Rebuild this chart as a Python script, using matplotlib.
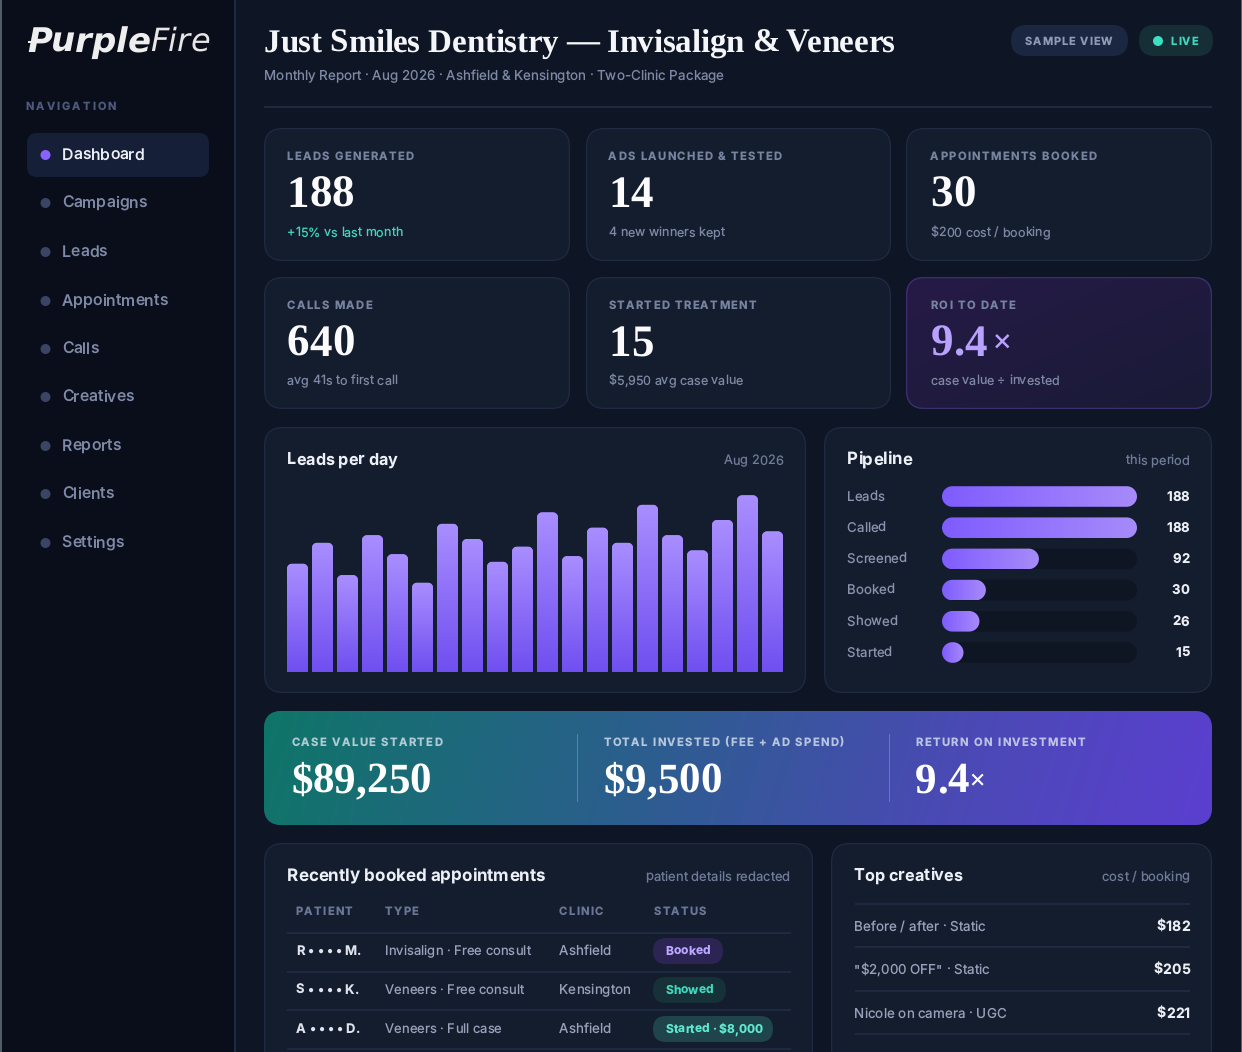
import numpy as np
import matplotlib
matplotlib.use("Agg")
import matplotlib.pyplot as plt
from matplotlib.patches import FancyBboxPatch, Circle, Rectangle, PathPatch
from matplotlib.path import Path
from matplotlib.colors import LinearSegmentedColormap
from matplotlib.text import Text
from matplotlib.transforms import IdentityTransform, Bbox

plt.rcParams["text.hinting"] = "no_hinting"
plt.rcParams["text.hinting_factor"] = 1

# ---------- data ----------
nav_items = ["Dashboard", "Campaigns", "Leads", "Appointments", "Calls",
             "Creatives", "Reports", "Clients", "Settings"]
kpi_labels = ["LEADS GENERATED", "ADS LAUNCHED & TESTED", "APPOINTMENTS BOOKED",
              "CALLS MADE", "STARTED TREATMENT", "ROI TO DATE"]
kpi_values = ["188", "14", "30", "640", "15", "9.4"]
kpi_notes = ["+15% vs last month", "4 new winners kept", "$200 cost / booking",
             "avg 41s to first call", "$5,950 avg case value", "case value ÷ invested"]
daily_leads = [57, 68, 51, 72, 62, 47, 78, 70, 58, 66, 84, 61, 76, 68, 88, 72, 64, 80, 93, 74]
pipeline_stages = ["Leads", "Called", "Screened", "Booked", "Showed", "Started"]
pipeline_counts = [188, 188, 92, 30, 26, 15]
pipeline_fill = [100, 100, 49.7, 22.5, 19.2, 11]
banner_labels = ["CASE VALUE STARTED", "TOTAL INVESTED (FEE + AD SPEND)", "RETURN ON INVESTMENT"]
banner_values = ["$89,250", "$9,500", "9.4"]
table_headers = ["PATIENT", "TYPE", "CLINIC", "STATUS"]
table_patients = ["R • • • • M.", "S • • • • K.", "A • • • • D."]
table_types = ["Invisalign · Free consult", "Veneers · Free consult", "Veneers · Full case"]
table_clinics = ["Ashfield", "Kensington", "Ashfield"]
table_status = ["Booked", "Showed", "Started · $8,000"]
creative_names = ["Before / after · Static", '"$2,000 OFF" · Static', "Nicole on camera · UGC"]
creative_costs = ["$182", "$205", "$221"]

# ---------- style ----------
W, H = 1242, 1052
UI = ["Inter", "DejaVu Sans"]
SERIF = ["Liberation Serif", "DejaVu Serif"]
C_MAIN = "#0e1524"; C_SIDE = "#0a0e1a"; C_LINE = "#1e2a42"; C_CARD = "#141d2e"
C_BORDER = "#1f2b42"; C_MUTED = "#7e89a5"; C_DIM = "#6f7b99"; C_TEAL = "#3fd8bd"
C_LABEL = "#77839f"
px = lambda v: v * 0.72

fig = plt.figure(figsize=(W / 100, H / 100), dpi=100, facecolor=C_MAIN)
bg = fig.add_axes([0, 0, 1, 1])
bg.set_xlim(0, W); bg.set_ylim(H, 0); bg.axis("off")


class Tracked(Text):
    """Text with letter spacing (px); it stays one text object."""
    def __init__(self, x, y, s, tracking=0, **kw):
        super().__init__(x, y, s, **kw)
        self._tracking = tracking

    def draw(self, renderer):
        if not self.get_visible():
            return
        s = self.get_text()
        fp = self.get_fontproperties()
        w = lambda t: renderer.get_text_width_height_descent(t, fp, False)[0] if t else 0
        x0, y0 = self.get_transform().transform(self.get_position())
        total = w(s) + self._tracking * (len(s) - 1)
        if self.get_ha() == "right":
            x0 -= total
        elif self.get_ha() == "center":
            x0 -= total / 2
        for i, ch in enumerate(s):
            if ch == " ":
                continue
            xi = x0 + w(s[:i + 1]) - w(ch) + self._tracking * i
            t = Text(xi, y0, ch, color=self.get_color(), fontproperties=fp, va=self.get_va(),
                     ha="left", alpha=self.get_alpha(), transform=IdentityTransform())
            t.set_figure(self.get_figure())
            t.draw(renderer)

    def get_window_extent(self, renderer=None, dpi=None):
        b = super().get_window_extent(renderer, dpi)
        extra = self._tracking * (len(self.get_text()) - 1)
        return Bbox([[b.x0, b.y0], [b.x1 + extra, b.y1]])


def txt(x, y, s, size, color, weight="normal", ha="left", va="center", family=UI,
        track=0, alpha=None, ax=bg, **kw):
    dy = 3 if family is SERIF else 1
    dx = -0.7
    t = Tracked(x + dx, y + dy, s, tracking=track, fontsize=px(size), color=color, fontweight=weight,
                ha=ha, va=va, family=family, alpha=alpha, transform=ax.transData, **kw)
    ax.add_artist(t)
    return t


def rrect(x0, y0, x1, y1, r, fc, ec="none", lw=0, z=1, ax=bg):
    p = FancyBboxPatch((x0 + r, y0 + r), x1 - x0 - 2 * r, y1 - y0 - 2 * r,
                       boxstyle=f"round,pad={r},rounding_size={r}", fc=fc, ec=ec, lw=lw, zorder=z)
    ax.add_patch(p)
    return p


def card(x0, y0, x1, y1, fc=C_CARD, ec=C_BORDER, z=1):
    return rrect(x0 + 0.6, y0 + 0.6, x1 - 0.6, y1 - 0.6, 18, fc, ec, 0.9, z=z)


def grad(c0, c1):
    return LinearSegmentedColormap.from_list("g", [c0, c1])


def rounded_path(x0, y0, x1, y1, rx, ry, bottom=True):
    """Rounded rectangle in data coordinates, with separate x and y radii."""
    k = 0.5523
    v = []; c = []
    def mv(*p): v.append(p); c.append(Path.MOVETO)
    def ln(*p): v.append(p); c.append(Path.LINETO)
    def cv(a, b, d):
        v.extend([a, b, d]); c.extend([Path.CURVE4] * 3)
    rb_x, rb_y = (rx, ry) if bottom else (0, 0)
    mv(x0 + rb_x, y0)
    ln(x1 - rb_x, y0)
    if bottom:
        cv((x1 - rb_x + k * rb_x, y0), (x1, y0 + rb_y - k * rb_y), (x1, y0 + rb_y))
    ln(x1, y1 - ry)
    cv((x1, y1 - ry + k * ry), (x1 - rx + k * rx, y1), (x1 - rx, y1))
    ln(x0 + rx, y1)
    cv((x0 + rx - k * rx, y1), (x0, y1 - ry + k * ry), (x0, y1 - ry))
    ln(x0, y0 + rb_y)
    if bottom:
        cv((x0, y0 + rb_y - k * rb_y), (x0 + rb_x - k * rb_x, y0), (x0 + rb_x, y0))
    ln(x0 + rb_x, y0)
    return Path(v, c)


# ---------- page frame ----------
bg.add_patch(Rectangle((2, 0), 232, H, fc=C_SIDE, ec="none", zorder=0))
bg.add_patch(Rectangle((234, 0), 1.5, H, fc=C_LINE, ec="none", zorder=0))
bg.add_patch(Rectangle((0, 0), 1.8, H, fc="#4f5f66", ec="none", zorder=0))
bg.add_patch(Rectangle((1241, 0), 1, H, fc="#5a6472", ec="none", zorder=0))

# ---------- sidebar ----------
txt(27.5, 41.5, "Purple", 34.5, "#eeeeee", "bold", family=["DejaVu Sans"], style="oblique")
txt(150.5, 41.5, "Fire", 32.5, "#e6e6e6", "normal", family=["DejaVu Sans"], style="oblique")
bg.add_patch(Rectangle((28, 40.5), 13, 2.4, fc="#eeeeee", ec="none", zorder=3))
txt(26.5, 105.5, "NAVIGATION", 11, "#4e5a7c", "bold", track=2.1)
rrect(27, 133, 209, 177, 10, "#161f38")
nav_y = [155, 203, 252, 301, 349, 397, 446, 494, 543]
for i, (name, y) in enumerate(zip(nav_items, nav_y)):
    active = i == 0
    bg.add_patch(Circle((45.5, y), 5, fc="#8a63ff" if active else "#3a4566", ec="none", zorder=2))
    txt(62.5, y, name, 15.8, "#eef0f8" if active else "#7f8aa8", "medium")

# ---------- header ----------
txt(264.5, 41, "Just Smiles Dentistry — Invisalign & Veneers", 32.7, "#f5f6fa", "bold", family=SERIF, track=-0.23)
txt(264.5, 75.5, "Monthly Report · Aug 2026 · Ashfield & Kensington · Two-Clinic Package", 13.4, C_MUTED)
bg.add_patch(Rectangle((264, 106.3), 948, 1.4, fc=C_LINE, ec="none", zorder=1))
rrect(1011, 25, 1128, 56, 15.5, "#1b2740")
txt(1025.5, 40.5, "SAMPLE VIEW", 11, "#8e9ab8", "bold", track=1.0)
rrect(1139, 25, 1213, 56, 15.5, "#162f36")
bg.add_patch(Circle((1158, 41), 5, fc="#3ce0c4", ec="none", zorder=2))
txt(1171.5, 40.5, "LIVE", 11, C_TEAL, "bold", track=1.0)

# ---------- KPI cards ----------
kpi_boxes = [(264, 128, 570, 261), (586, 128, 891, 261), (906, 128, 1212, 261),
             (264, 277, 570, 409), (586, 277, 891, 409), (906, 277, 1212, 409)]
kpi_text_x = [287.5, 609, 931, 287.5, 609, 931]
for i, box in enumerate(kpi_boxes):
    x0, y0, x1, y1 = box
    if i == 5:
        clip = card(x0, y0, x1, y1, "#1e1a3c", "#3b2f6e")
        cm = grad("#261b47", "#191a36")
        yy, xx = np.mgrid[0:1:40j, 0:1:80j]
        bg.imshow(xx * 0.5 + yy * 0.5, extent=(x0, x1, y1, y0), cmap=cm, aspect="auto",
                  zorder=1.2, clip_path=clip, clip_on=True, vmin=0, vmax=1)
        card(x0, y0, x1, y1, "none", "#3b2f6e", z=1.3)
    else:
        card(x0, y0, x1, y1)
    tx = kpi_text_x[i]
    txt(tx, y0 + 27.5, kpi_labels[i], 11.2, C_LABEL, "bold", track=1.35)
    vc = "#b9a2ff" if i == 5 else "#fbfbfd"
    txt(tx, y0 + 65, kpi_values[i], 45.5, vc, "bold", family=SERIF)
    if i == 5:
        txt(tx + 62, y0 + 65, "×", 31, vc, "normal")
    txt(tx, y0 + (104 if i < 3 else 103), kpi_notes[i], 12.5, C_TEAL if i == 0 else C_MUTED)

# ---------- leads per day ----------
card(264, 427, 806, 693)
txt(287.5, 459, "Leads per day", 16.2, "#eef0f8", "bold")
txt(783.5, 460, "Aug 2026", 12.8, C_DIM, ha="right")

ax = fig.add_axes([287 / W, 1 - 672 / H, (783 - 287) / W, 190 / H])
ax.axis("off"); ax.patch.set_alpha(0)
n = len(daily_leads)
ax.set_xlim(-0.5 + 2 / 25, n - 0.5 - 2 / 25)
ax.set_ylim(0, 100)
bars = ax.bar(range(n), daily_leads, width=21 / 25, color="#8f72f8", edgecolor="none")
rx, ry = 5 / 25, 5 / 1.9
cm_v = grad("#6f4ff0", "#a98eff")
for b in bars:
    x0, x1, top = b.get_x(), b.get_x() + b.get_width(), b.get_height()
    clip = PathPatch(rounded_path(x0, 0, x1, top, rx, ry, bottom=False), transform=ax.transData, fc="none", ec="none")
    ax.add_patch(clip)
    b.set_clip_path(clip)
    im = ax.imshow(np.linspace(0, 1, 128)[:, None], extent=(x0, x1, 0, top), origin="lower",
                   cmap=cm_v, aspect="auto", zorder=3, vmin=0, vmax=1)
    im.set_clip_path(clip)
ax.set_xlim(-0.5 + 2 / 25, n - 0.5 - 2 / 25)
ax.set_ylim(0, 100)

# ---------- pipeline ----------
card(824, 427, 1212, 693)
txt(847.5, 459, "Pipeline", 16.8, "#eef0f8", "bold")
txt(1190, 460, "this period", 12.8, C_DIM, ha="right")
row_h = 31.2
top_px = 496.5 - row_h / 2
ax2 = fig.add_axes([942 / W, 1 - (top_px + 6 * row_h) / H, 195 / W, 6 * row_h / H])
ax2.axis("off"); ax2.patch.set_alpha(0)
ax2.set_xlim(0, 100); ax2.set_ylim(5.5, -0.5)
bh = 20.6 / row_h
px_x = 100 / 195
ax2.barh(range(6), [100] * 6, height=bh, color="none", edgecolor="none")
cm_h = grad("#7f5cff", "#a78bfa")
for i, (stage, count, f) in enumerate(zip(pipeline_stages, pipeline_counts, pipeline_fill)):
    yc = 496 + i * row_h
    txt(847.5, yc, stage, 13.2, "#8a94ae")
    txt(1190, yc, str(count), 13.2, "#eceef6", "bold", ha="right")
    trk = rounded_path(0, i - bh / 2, 100, i + bh / 2, 10.3 * px_x, bh / 2)
    ax2.add_patch(PathPatch(trk, fc="#0f1623", ec="none", zorder=1))
    r = min(10.3 * px_x, f / 2)
    fil = PathPatch(rounded_path(0, i - bh / 2, f, i + bh / 2, r, bh / 2), fc="none", ec="none",
                    transform=ax2.transData, zorder=2)
    ax2.add_patch(fil)
    im = ax2.imshow(np.linspace(0, 1, 128)[None, :], extent=(0, f, i + bh / 2, i - bh / 2),
                    cmap=cm_h, aspect="auto", zorder=3, vmin=0, vmax=1)
    im.set_clip_path(fil)
ax2.set_xlim(0, 100); ax2.set_ylim(5.5, -0.5)

# ---------- banner ----------
bclip = rrect(264, 711, 1212, 825, 18, "#2a5d8a")
yy, xx = np.mgrid[0:1:60j, 0:1:400j]
tt = np.clip((xx * 948 + yy * 114 * 0.3) / (948 + 34), 0, 1)
c_stops = ["#0f7568", "#2a5f8c", "#4a4ab4", "#5b3fd0"]
bg.imshow(tt, extent=(264, 1212, 825, 711),
          cmap=LinearSegmentedColormap.from_list("b", list(zip([0, .38, .72, 1], c_stops))),
          aspect="auto", zorder=1.1, clip_path=bclip, clip_on=True, vmin=0, vmax=1)
for x, lab, val in zip((292, 604, 916), banner_labels, banner_values):
    txt(x, 741.5, lab, 11.2, "#d8e2f0", "bold", track=1.4, alpha=0.8, zorder=4)
    txt(x, 779, val, 43, "#ffffff", "bold", family=SERIF, zorder=4)
txt(969.5, 779, "×", 26, "#ffffff", zorder=4)
for x in (577.5, 889.5):
    bg.add_patch(Rectangle((x - 0.6, 734), 1.2, 68, fc="#ffffff", alpha=0.22, ec="none", zorder=3))

# ---------- bottom-left table ----------
card(264, 843, 813, 1090)
txt(287.5, 875, "Recently booked appointments", 17, "#eef0f8", "bold")
txt(790.5, 876, "patient details redacted", 13, C_DIM, ha="right")
for x, h in zip((296.5, 385.5, 559.5, 654.5), table_headers):
    txt(x, 910.5, h, 11.2, "#6b7796", "bold", track=1.25)
for y in (933, 972, 1010, 1049):
    bg.add_patch(Rectangle((287, y - 0.6), 504, 1.2, fc=C_LINE, ec="none", zorder=2))
row_y = [951, 990, 1029]
pill_w = [70, 73, 120]
pill_bg = ["#2c2554", "#173138", "#20444b"]
pill_fg = ["#bda6ff", C_TEAL, "#5fe8cc"]
for i, y in enumerate(row_y):
    txt(296.5, y - 0.5, table_patients[i], 13, "#dfe3ee", "bold")
    txt(385.5, y - 0.5, table_types[i], 13.0, "#98a2ba")
    txt(559.5, y - 0.5, table_clinics[i], 13.4, "#98a2ba")
    rrect(653, y - 13, 653 + pill_w[i], y + 13, 13, pill_bg[i], z=2)
    txt(666.5, y, table_status[i], 12.0, pill_fg[i], "bold", zorder=4)

# ---------- bottom-right list ----------
card(831, 843, 1212, 1090)
txt(854.5, 875, "Top creatives", 16.2, "#eef0f8", "bold")
txt(1190, 876, "cost / booking", 13, C_DIM, ha="right")
for y in (904, 947, 991, 1034):
    bg.add_patch(Rectangle((855, y - 0.6), 335, 1.2, fc=C_LINE, ec="none", zorder=2))
for y, name, cost in zip((926, 969, 1013), creative_names, creative_costs):
    txt(854.5, y, name, 13.4, "#98a2ba")
    txt(1190.5, y, cost, 14, "#eceef6", "bold", ha="right")

bg.set_xlim(0, W); bg.set_ylim(H, 0)
fig.savefig("out.png", dpi=100, facecolor=fig.get_facecolor())
